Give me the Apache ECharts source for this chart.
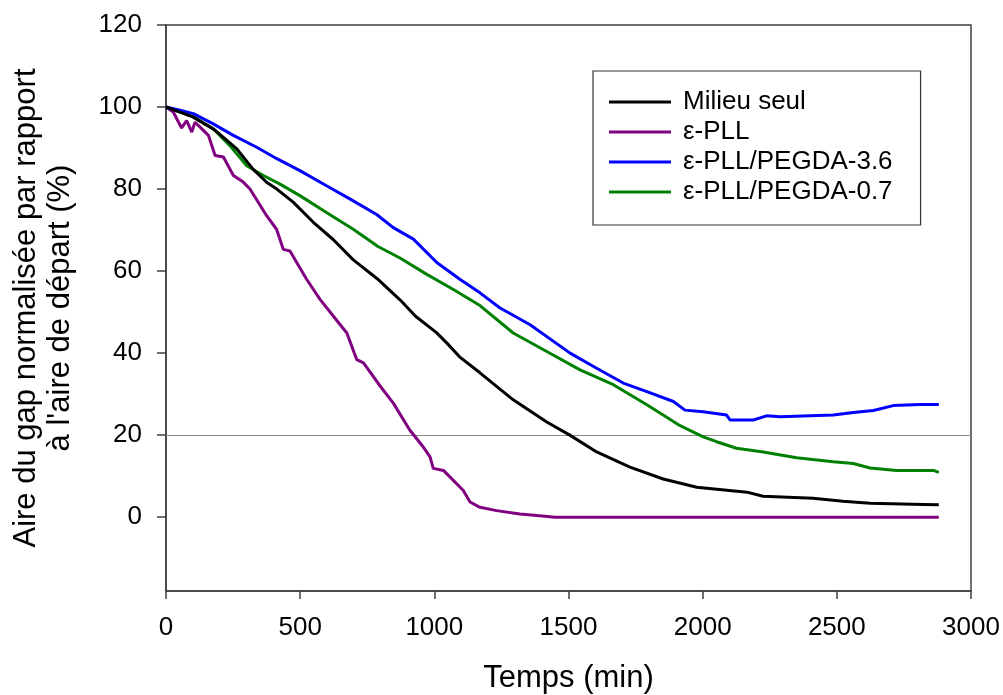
<!DOCTYPE html>
<html>
<head>
<meta charset="utf-8">
<script src="https://cdn.jsdelivr.net/npm/echarts@6/dist/echarts.min.js"></script>
<style>
html,body{margin:0;padding:0;background:#fff;}
#chart{width:1003px;height:695px;}
</style>
</head>
<body>
<div id="chart"></div>
<script>
const seriesNames = ['Milieu seul', 'ε-PLL', 'ε-PLL/PEGDA-3.6', 'ε-PLL/PEGDA-0.7'];
const yTickValues = [0, 20, 40, 60, 80, 100, 120];
const xTickValues = [0, 500, 1000, 1500, 2000, 2500, 3000];

const milieuT = [0, 50, 100, 180, 264, 325, 376, 413, 474, 549, 623, 697, 786, 872, 930, 1008, 1046, 1094, 1170, 1294, 1419, 1505, 1605, 1729, 1853, 1978, 2165, 2225, 2411, 2523, 2624, 2821, 2880];
const milieuV = [100, 98.8, 97.6, 94.5, 89.8, 84.8, 81.6, 80.0, 76.8, 71.9, 67.7, 62.8, 58.2, 53.0, 49.0, 45.0, 42.5, 39.1, 35.2, 28.6, 23.2, 20.0, 15.9, 12.2, 9.3, 7.3, 6.1, 5.1, 4.6, 3.9, 3.4, 3.1, 3.0];

const pllT = [0, 27, 58, 77, 96, 108, 127, 158, 183, 214, 251, 288, 313, 375, 412, 437, 462, 524, 574, 624, 674, 711, 736, 800, 847, 909, 959, 984, 996, 1034, 1108, 1133, 1170, 1232, 1319, 1382, 1450, 2880];
const pllV = [100, 98.8, 94.9, 96.7, 93.9, 96.3, 95.1, 93.1, 88.2, 87.8, 83.3, 81.7, 80.0, 73.5, 70.2, 65.3, 64.9, 58.0, 53.1, 49.0, 44.9, 38.4, 37.6, 31.8, 27.8, 21.2, 17.1, 14.7, 11.9, 11.4, 6.5, 3.7, 2.4, 1.6, 0.8, 0.4, 0, 0];

const peg36T = [0, 52, 102, 176, 251, 338, 413, 499, 598, 685, 785, 847, 922, 1009, 1095, 1170, 1245, 1357, 1506, 1605, 1704, 1792, 1891, 1934, 2002, 2089, 2102, 2189, 2238, 2288, 2487, 2561, 2636, 2710, 2810, 2880];
const peg36V = [100, 99.2, 98.4, 95.9, 93.1, 90.2, 87.4, 84.5, 80.8, 77.6, 73.8, 70.6, 67.8, 62.1, 58.0, 54.7, 51.0, 46.9, 40.0, 36.3, 32.7, 30.6, 28.2, 26.1, 25.7, 24.9, 23.7, 23.7, 24.7, 24.5, 24.9, 25.5, 26.0, 27.2, 27.5, 27.5];

const peg07T = [0, 102, 176, 238, 301, 363, 425, 499, 598, 698, 790, 872, 972, 1071, 1170, 1294, 1419, 1543, 1667, 1792, 1916, 2002, 2052, 2126, 2226, 2350, 2487, 2561, 2624, 2723, 2860, 2880];
const peg07V = [100, 97.6, 94.7, 90.6, 85.7, 83.3, 81.2, 78.4, 74.3, 70.2, 66.0, 63.2, 59.2, 55.5, 51.6, 44.9, 40.4, 35.9, 32.3, 27.4, 22.3, 19.6, 18.4, 16.8, 15.9, 14.5, 13.5, 13.1, 12.0, 11.4, 11.4, 10.9];

const refLineValue = 20;

function zip(t, v) { return t.map((x, i) => [x, v[i]]); }

const FONT = "'Liberation Sans', Arial, sans-serif";
const colors = ['#000000', '#800080', '#0000ff', '#008000'];
const datasets = [zip(milieuT, milieuV), zip(pllT, pllV), zip(peg36T, peg36V), zip(peg07T, peg07V)];

const chart = echarts.init(document.getElementById('chart'), null, {renderer: 'canvas'});
const series = datasets.map((d, i) => ({
  name: seriesNames[i],
  type: 'line',
  data: d,
  showSymbol: false,
  symbol: 'none',
  z: 3 + (3 - i),
  lineStyle: {color: colors[i], width: 3},
  itemStyle: {color: colors[i]},
  animation: false
}));
series[0].markLine = {
  silent: true,
  symbol: 'none',
  label: {show: false},
  lineStyle: {color: '#8a8a8a', width: 1, type: 'solid'},
  data: [{yAxis: refLineValue}],
  animation: false,
  z: 1
};

chart.setOption({
  animation: false,
  backgroundColor: '#fff',
  grid: {
    left: 166, right: 32, top: 25, bottom: 104,
    outerBoundsMode: 'none',
    containLabel: false,
    show: true, borderColor: '#404040', borderWidth: 1.5, backgroundColor: 'transparent'
  },
  legend: {
    data: seriesNames.map((n, i) => ({name: n, itemStyle: {color: colors[i]}})),
    orient: 'vertical',
    left: 593, top: 71,
    padding: [17, 28, 19, 16],
    itemWidth: 62, itemHeight: 3,
    itemGap: 2,
    icon: 'rect',
    borderColor: '#333', borderWidth: 1.2,
    backgroundColor: '#fff',
    textStyle: {fontFamily: FONT, fontSize: 26, color: '#000', lineHeight: 28, padding: [0, 0, 0, 7]}
  },
  xAxis: {
    type: 'value', min: 0, max: 3000, interval: 500,
    name: 'Temps (min)', nameLocation: 'middle', nameGap: 72,
    nameTextStyle: {fontFamily: FONT, fontSize: 31, color: '#000'},
    axisLine: {show: true, onZero: false, lineStyle: {color: '#404040', width: 1.5}},
    axisTick: {show: true, inside: false, length: 8, lineStyle: {color: '#404040', width: 1.5}},
    axisLabel: {fontFamily: FONT, fontSize: 26, color: '#000', margin: 24, customValues: xTickValues, formatter: v => String(v)},
    splitLine: {show: false}
  },
  yAxis: {
    type: 'value', min: -18, max: 120,
    name: "Aire du gap normalisée par rapport\nà l'aire de départ (%)",
    nameLocation: 'middle', nameGap: 89, nameRotate: 90,
    nameTextStyle: {fontFamily: FONT, fontSize: 31, color: '#000', lineHeight: 34, align: 'center'},
    axisLine: {show: true, onZero: false, lineStyle: {color: '#404040', width: 1.5}},
    axisTick: {show: true, inside: false, length: 9, customValues: yTickValues, lineStyle: {color: '#404040', width: 1.5}},
    axisLabel: {fontFamily: FONT, fontSize: 26, color: '#000', margin: 24, customValues: yTickValues, formatter: v => String(v)},
    splitLine: {show: false}
  },
  series: series
});
</script>
</body>
</html>
